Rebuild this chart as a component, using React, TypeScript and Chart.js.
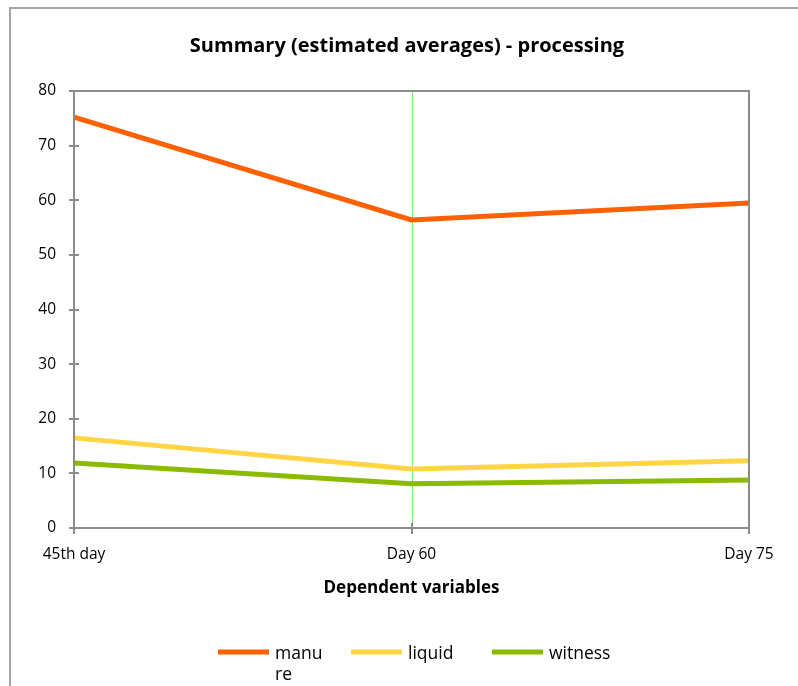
import React, { useEffect, useRef } from 'react';
import { Chart, registerables } from 'chart.js';

Chart.register(...registerables);

const categories = ['45th day', 'Day 60', 'Day 75'];
const manure = [75.2, 56.4, 59.5];
const liquid = [16.5, 10.8, 12.3];
const witness = [11.9, 8.1, 8.8];
const yTicks = [0, 10, 20, 30, 40, 50, 60, 70, 80];
const seriesLabels = ['manure', 'liquid', 'witness'];
const seriesColors = ['#FF6000', '#FFD545', '#8BBA00'];
const titleText = 'Summary (estimated averages) - processing';
const xAxisTitle = 'Dependent variables';

const FONT = '"Open Sans", "Noto Sans", sans-serif';

function line(ctx: CanvasRenderingContext2D, x1: number, y1: number, x2: number, y2: number) {
  ctx.beginPath();
  ctx.moveTo(x1, y1);
  ctx.lineTo(x2, y2);
  ctx.stroke();
}

const decor = {
  id: 'decor',
  beforeDraw(chart: any) {
    const ctx = chart.ctx as CanvasRenderingContext2D;
    ctx.save();
    ctx.strokeStyle = '#a6a6a6';
    ctx.lineWidth = 2;
    ctx.strokeRect(10, 8, 820, 720);
    ctx.restore();
  },
  beforeDatasetsDraw(chart: any) {
    const ctx = chart.ctx as CanvasRenderingContext2D;
    const { top, bottom } = chart.chartArea;
    const x = chart.scales.x;
    ctx.save();
    ctx.strokeStyle = '#80F080';
    ctx.lineWidth = 1;
    categories.forEach((_, i) => {
      if (i > 0 && i < categories.length - 1) {
        const px = Math.round(x.getPixelForValue(i)) + 0.5;
        line(ctx, px, top, px, bottom);
      }
    });
    ctx.restore();
  },
  afterDatasetsDraw(chart: any) {
    const ctx = chart.ctx as CanvasRenderingContext2D;
    const { left, right, top, bottom } = chart.chartArea;
    const x = chart.scales.x;
    const y = chart.scales.y;
    ctx.save();
    ctx.strokeStyle = '#8c8c8c';
    ctx.lineWidth = 2;
    ctx.strokeRect(left, top, right - left, bottom - top);
    yTicks.forEach((v) => {
      const py = Math.round(y.getPixelForValue(v));
      line(ctx, left - 5, py, left + 5, py);
    });
    categories.forEach((_, i) => {
      const px = Math.round(x.getPixelForValue(i));
      line(ctx, px, bottom - 5, px, bottom + 6);
    });
    ctx.restore();
  },
  afterDraw(chart: any) {
    const ctx = chart.ctx as CanvasRenderingContext2D;
    const { left, right } = chart.chartArea;
    ctx.save();
    ctx.fillStyle = '#000';
    ctx.textAlign = 'center';
    ctx.textBaseline = 'alphabetic';
    ctx.font = `bold 20px ${FONT}`;
    ctx.fillText(titleText, 407, 52);
    ctx.font = `bold 17px ${FONT}`;
    ctx.fillText(xAxisTitle, (left + right) / 2, 593);

    // legend
    const itemX = [218, 351, 492];
    const maxW = [48, 90, 90];
    ctx.font = `17.5px ${FONT}`;
    ctx.textAlign = 'left';
    chart.data.datasets.forEach((ds: any, i: number) => {
      const x0 = itemX[i];
      ctx.strokeStyle = ds.borderColor;
      ctx.lineWidth = 5;
      line(ctx, x0, 652, x0 + 51, 652);
      const text: string = ds.label;
      const lines: string[] = [];
      let cur = '';
      for (const ch of text) {
        if (ctx.measureText(cur + ch).width > maxW[i] && cur) {
          lines.push(cur);
          cur = ch;
        } else cur += ch;
      }
      if (cur) lines.push(cur);
      lines.forEach((ln, j) => ctx.fillText(ln, x0 + 57, 659 + j * 21));
    });
    ctx.restore();
  },
};

export default function App() {
  const ref = useRef<HTMLCanvasElement | null>(null);
  useEffect(() => {
    document.documentElement.style.overflow = 'hidden';
    const canvas = ref.current!;
    const chart = new Chart(canvas, {
      type: 'line',
      data: {
        labels: categories,
        datasets: [
          { label: seriesLabels[0], data: manure, borderColor: seriesColors[0], backgroundColor: seriesColors[0] },
          { label: seriesLabels[1], data: liquid, borderColor: seriesColors[1], backgroundColor: seriesColors[1] },
          { label: seriesLabels[2], data: witness, borderColor: seriesColors[2], backgroundColor: seriesColors[2] },
        ].map((d) => ({ ...d, borderWidth: 5, pointRadius: 0, tension: 0, fill: false })),
      },
      options: {
        animation: false,
        responsive: false,
        maintainAspectRatio: false,
        layout: { padding: { left: 0, right: 49, top: 91, bottom: 118 } },
        plugins: {
          legend: { display: false },
          title: { display: false },
          tooltip: { enabled: false },
        },
        scales: {
          x: {
            type: 'category',
            offset: false,
            grid: { display: false, drawTicks: false },
            border: { display: false },
            ticks: { font: { family: FONT, size: 15.5 }, color: '#000', padding: 17, maxRotation: 0, autoSkip: false },
            afterFit: (s: any) => { s.height = 40; },
          },
          y: {
            min: 0,
            max: 80,
            grid: { display: false, drawTicks: false },
            border: { display: false },
            ticks: { stepSize: 10, font: { family: FONT, size: 15.5 }, color: '#000', padding: 18 },
            afterFit: (s: any) => { s.width = 74; },
          },
        },
      },
      plugins: [decor],
    } as any);
    return () => chart.destroy();
  }, []);
  return (
    <canvas
      ref={ref}
      width={798}
      height={686}
      style={{ position: 'fixed', left: 0, top: 0, width: 798, height: 686, display: 'block' }}
    />
  );
}
